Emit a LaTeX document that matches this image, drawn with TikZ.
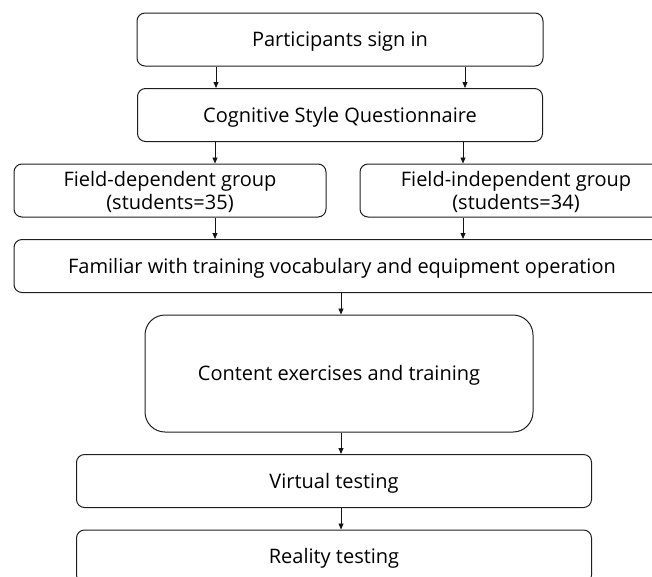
\documentclass[tikz,border=0pt]{standalone}
\usepackage{fontspec}
\setmainfont{Open Sans}
\usepackage{tikz}
\usetikzlibrary{
  arrows.meta,
  positioning
}
\definecolor{BoxLine}{RGB}{30,30,30}
\definecolor{ArrowLine}{RGB}{20,20,20}
\tikzset{
  stepbox/.style={draw=BoxLine,line width=1pt,rounded corners=8pt,minimum height=53pt,align=center,font=\fontsize{20}{23}\selectfont,inner sep=1pt,text depth=1pt},
  bigbox/.style={stepbox,rounded corners=20pt,minimum height=117pt},
  flowarrow/.style={-{Triangle[length=6pt,width=5pt]},line width=0.8pt,draw=ArrowLine}
}

\begin{document}
\begin{tikzpicture}[x=1pt,y=-1pt,node distance=21.5pt]
\useasboundingbox (0,0) rectangle (652,576);
\clip (0,0) rectangle (652,576);
\node[stepbox, minimum width=406pt] (sign) at (340,39.5) {Participants sign in};
\node[stepbox, minimum width=405pt, below=of sign] (quest) {Cognitive Style Questionnaire};
\node[stepbox, minimum width=312pt, below=of quest, xshift=-170pt] (dep) {Field-dependent group\\(students=35)};
\node[stepbox, minimum width=312pt, below=of quest, xshift=176pt] (indep) {Field-independent group\\(students=34)};
\node[stepbox, minimum width=656pt, below=of dep, xshift=172pt] (fam) {Familiar with training vocabulary and equipment operation};
\node[bigbox, minimum width=388pt, below=of fam, xshift=-3pt] (content) {Content exercises and training};
\node[stepbox, minimum width=515pt, below=of content, xshift=-5pt] (virt) {Virtual testing};
\node[stepbox, minimum width=515pt, below=of virt] (real) {Reality testing};
\draw[flowarrow] ([xshift=-124pt]sign.south) -- ([xshift=-124pt]quest.north);
\draw[flowarrow] ([xshift=125pt]sign.south) -- ([xshift=125pt]quest.north);
\draw[flowarrow] ([xshift=45pt]dep.north |- quest.south) -- ([xshift=45pt]dep.north);
\draw[flowarrow] ([xshift=-53pt]indep.north |- quest.south) -- ([xshift=-53pt]indep.north);
\draw[flowarrow] ([xshift=45pt]dep.south) -- ([xshift=45pt]dep.south |- fam.north);
\draw[flowarrow] ([xshift=-53pt]indep.south) -- ([xshift=-53pt]indep.south |- fam.north);
\draw[flowarrow] ([xshift=-1pt]fam.south) -- ([xshift=-1pt]fam.south |- content.north);
\draw[flowarrow] ([xshift=2pt]content.south) -- ([xshift=2pt]content.south |- virt.north);
\draw[flowarrow] ([xshift=7pt]virt.south) -- ([xshift=7pt]real.north);
\end{tikzpicture}
\end{document}
